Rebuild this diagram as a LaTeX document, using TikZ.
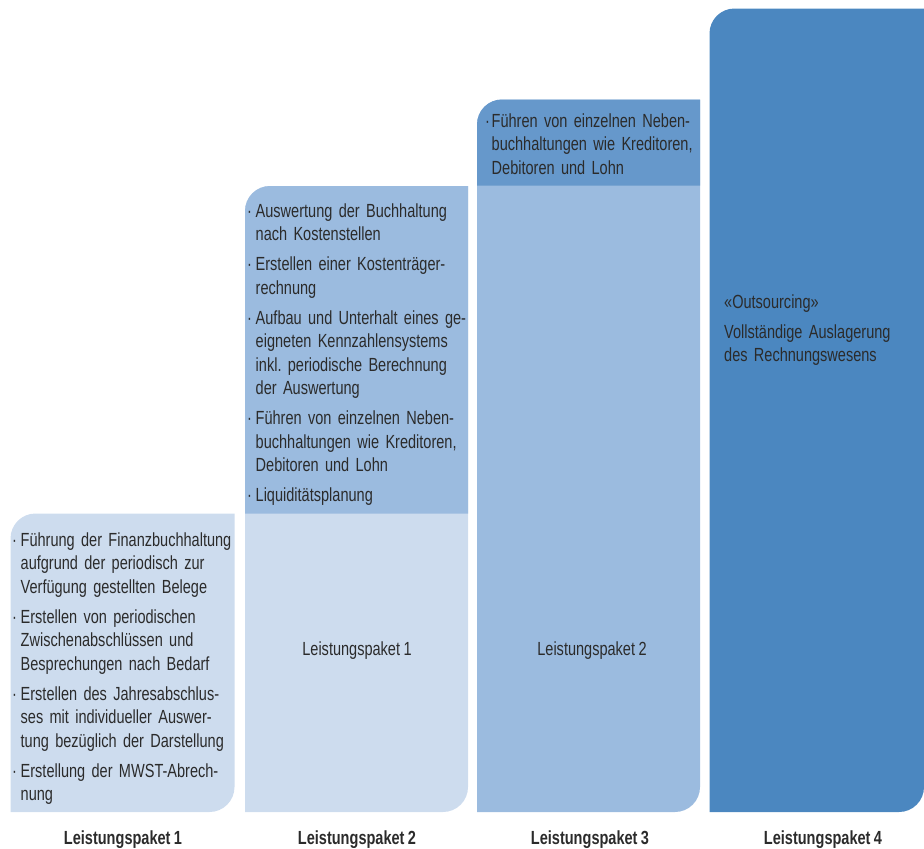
\documentclass[tikz,border=0pt]{standalone}
\usepackage{fontspec}
\setmainfont{Liberation Sans}[FakeStretch=0.765, WordSpace=0.85]
\definecolor{paketlight}{HTML}{CDDCEE}
\definecolor{paketmid}{HTML}{9BBBDF}
\definecolor{pakethead}{HTML}{6698CB}
\definecolor{paketdark}{HTML}{4B87C0}
\definecolor{textgrey}{HTML}{2B2B2B}
\newcommand{\itm}[2][8.5pt]{\hangindent=#1\hangafter=1\noindent\makebox[#1][l]{·}#2\par}
\begin{document}
\begin{tikzpicture}[x=1pt, y=-1pt,
  txt/.style={anchor=base west, inner sep=0pt, text width=240pt,
    font=\fontsize{19}{23.5}\selectfont, text=textgrey,
    execute at begin node={\raggedright\setlength\parskip{6.5pt}\frenchspacing}},
  lbl/.style={anchor=base, inner sep=0pt, font=\fontsize{19}{23.5}\selectfont, text=textgrey},
  paketname/.style={lbl, font=\fontsize{19}{23.5}\selectfont\bfseries}]
\useasboundingbox (0,0) rectangle (924,849);
% columns
\fill[paketlight] (10.5,812) [rounded corners=25pt] -- (10.5,513.5) [sharp corners] -- (234.5,513.5) [rounded corners=25pt] -- (234.5,812) [sharp corners] -- cycle;
\fill[paketlight] (245,812) [rounded corners=25pt] -- (245,186) [sharp corners] -- (468,186) [rounded corners=25pt] -- (468,812) [sharp corners] -- cycle;
\fill[paketmid] (245,513.5) [rounded corners=25pt] -- (245,186) [sharp corners] -- (468,186) -- (468,513.5) -- cycle;
\fill[paketmid] (477,812) [rounded corners=25pt] -- (477,99.5) [sharp corners] -- (700,99.5) [rounded corners=25pt] -- (700,812) [sharp corners] -- cycle;
\fill[pakethead] (477,185.5) [rounded corners=25pt] -- (477,99.5) [sharp corners] -- (700,99.5) -- (700,185.5) -- cycle;
\fill[paketdark] (709.5,812) [rounded corners=25pt] -- (709.5,8.5) [sharp corners] -- (924,8.5) [rounded corners=25pt] -- (924,812) [sharp corners] -- cycle;
% texts
\node[txt] (p1) at (12,546) {\itm{Führung der Finanzbuchhaltung\newline aufgrund der periodisch zur\newline Verfügung gestellten Belege}
  \itm{Erstellen von periodischen\newline Zwischenabschlüssen und\newline Besprechungen nach Bedarf}
  \itm{Erstellen des Jahresabschlus-\newline ses mit individueller Auswer-\newline tung bezüglich der Darstellung}
  \itm{Erstellung der MWST-Abrech-\newline nung}};
\node[txt] (p2) at (247,217) {\itm{Auswertung der Buchhaltung\newline nach Kostenstellen}
  \itm{Erstellen einer Kostenträger-\newline rechnung}
  \itm{Aufbau und Unterhalt eines ge-\newline eigneten Kennzahlensystems\newline inkl. periodische Berechnung\newline der Auswertung}
  \itm{Führen von einzelnen Neben-\newline buchhaltungen wie Kreditoren,\newline Debitoren und Lohn}
  \itm{Liquiditätsplanung}};
\node[txt] (p3) at (485,127) {\itm[6.5pt]{Führen von einzelnen Neben-\newline buchhaltungen wie Kreditoren,\newline Debitoren und Lohn}};
\node[txt] (p4) at (724,308) {«Outsourcing»\par Vollständige Auslagerung\newline des Rechnungswesens};
\node[lbl] (inhalt2) at (357,655) {Leistungspaket 1};
\node[lbl] (inhalt3) at (592,655) {Leistungspaket 2};
% package names
\node[paketname] (name1) at (123,844) {Leistungspaket 1};
\node[paketname] (name2) at (357,844) {Leistungspaket 2};
\node[paketname] (name3) at (590,844) {Leistungspaket 3};
\node[paketname] (name4) at (823,844) {Leistungspaket 4};
\end{tikzpicture}
\end{document}
